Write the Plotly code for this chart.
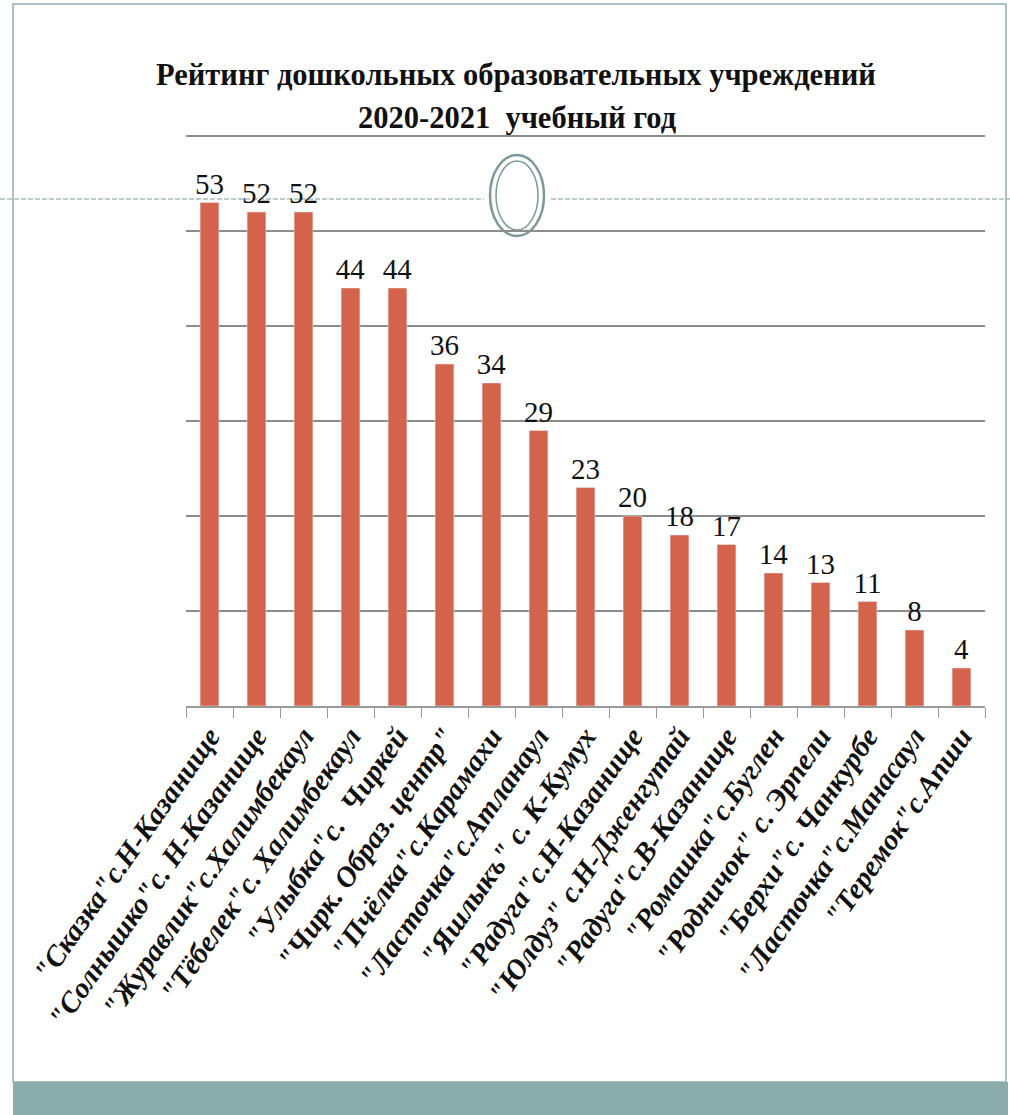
import plotly.graph_objects as go

categories = [
    '"Сказка"с.Н-Казанище',
    '"Солнышко"с. Н-Казанище',
    '"Журавлик"с.Халимбекаул',
    '"Тёбелек"с. Халимбекаул',
    '"Улыбка"с.  Чиркей',
    '"Чирк. Образ. центр"',
    '"Пчёлка"с.Карамахи',
    '"Ласточка"с.Атланаул',
    '"Яшлыкъ" с. К-Кумух',
    '"Радуга"с.Н-Казанище',
    '"Юлдуз" с.Н-Дженгутай',
    '"Радуга"с.В-Казанище',
    '"Ромашка"с.Буглен',
    '"Родничок" с. Эрпели',
    '"Берхи"с. Чанкурбе',
    '"Ласточка"с.Манасаул',
    '"Теремок"с.Апши',
]
values = [53, 52, 52, 44, 44, 36, 34, 29, 23, 20, 18, 17, 14, 13, 11, 8, 4]
title_line1 = "Рейтинг дошкольных образовательных учреждений"
title_line2 = "2020-2021  учебный год"

W, H = 1010, 1115
# plot area in page pixels (top slightly above the 60 gridline so it is drawn)
L, R, T, B = 186, 985, 130, 706
UNIT = 9.5  # pixels per rating point
YMAX = (B - T) / UNIT


def px(x):
    return (x - L) / (R - L)


def py(y):
    return (B - y) / (B - T)


BAR = "#D3634A"
FRAME = "#93AEAD"
ORN = "#7A9A99"

fig = go.Figure(
    go.Bar(
        x=categories,
        y=values,
        marker_color=BAR,
        width=0.4,
        text=values,
        textposition="outside",
        constraintext="none",
        textfont=dict(family="Liberation Serif", size=29, color="#111111"),
        cliponaxis=False,
    )
)

shapes = []
# slide frame
shapes.append(dict(type="rect", xref="paper", yref="paper",
                   x0=px(13), x1=px(1006), y0=py(1082), y1=py(4),
                   line=dict(color=FRAME, width=1.5), fillcolor="rgba(0,0,0,0)", layer="below"))
# bottom band
shapes.append(dict(type="rect", xref="paper", yref="paper",
                   x0=px(13), x1=px(1008), y0=py(1116), y1=py(1082),
                   line=dict(width=0), fillcolor="#8AACAB", layer="below"))
# dashed decorative line
shapes.append(dict(type="line", xref="paper", yref="paper",
                   x0=px(0), x1=px(484), y0=py(199), y1=py(199),
                   line=dict(color=ORN, width=1.2, dash="5px,2px"), layer="below"))
shapes.append(dict(type="line", xref="paper", yref="paper",
                   x0=px(551), x1=px(1010), y0=py(199), y1=py(199),
                   line=dict(color=ORN, width=1.2, dash="5px,2px"), layer="below"))
# ornament rings
shapes.append(dict(type="circle", xref="paper", yref="paper",
                   x0=px(490), x1=px(544), y0=py(236), y1=py(155),
                   line=dict(color=ORN, width=2.5), fillcolor="white", layer="below"))
shapes.append(dict(type="circle", xref="paper", yref="paper",
                   x0=px(496), x1=px(538), y0=py(230), y1=py(161),
                   line=dict(color=ORN, width=1.5), fillcolor="white", layer="below"))

annotations = [
    dict(text=title_line1, xref="paper", yref="paper", x=px(516), y=py(75),
         xanchor="center", yanchor="middle", showarrow=False,
         font=dict(family="Liberation Serif", size=30.5, color="#111111", weight="bold")),
    dict(text=title_line2, xref="paper", yref="paper", x=px(517), y=py(118),
         xanchor="center", yanchor="middle", showarrow=False,
         font=dict(family="Liberation Serif", size=30.5, color="#111111", weight="bold")),
]

fig.update_layout(
    width=W, height=H,
    margin=dict(l=L, r=W - R, t=T, b=H - B, autoexpand=False),
    paper_bgcolor="white", plot_bgcolor="rgba(0,0,0,0)",
    showlegend=False,
    shapes=shapes,
    annotations=annotations,
    bargap=0.6,
)
fig.update_xaxes(
    type="category",
    tickangle=-55,
    tickfont=dict(family="Liberation Serif", size=29, color="#111111",
                  weight="bold", style="italic"),
    showline=True, linecolor="#999999", linewidth=1.5,
    ticks="outside", tickson="boundaries", ticklen=10, tickcolor="#999999",
    showgrid=False,
)
fig.update_yaxes(
    range=[0, YMAX], dtick=10,
    showticklabels=False,
    showgrid=True, gridcolor="#8C8C8C", gridwidth=1.5,
    zeroline=False, showline=False, ticks="",
)

fig.write_html(
    "out.html",
    config={"displayModeBar": False},
    post_script="document.body.style.margin='0';document.body.style.overflow='hidden';",
)
